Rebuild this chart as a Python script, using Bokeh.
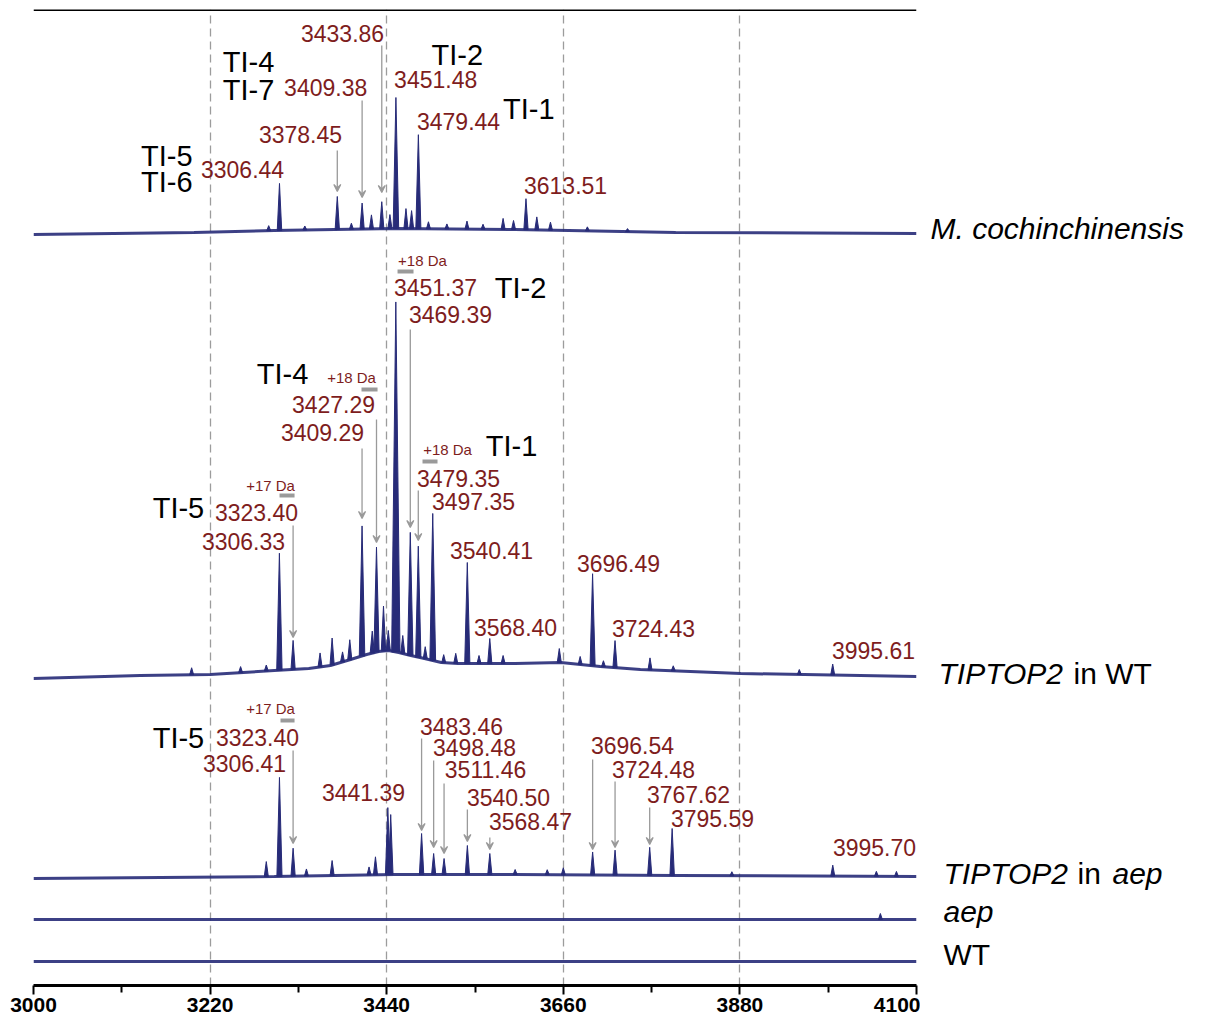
import numpy as np
from bokeh.plotting import figure
from bokeh.layouts import row
from bokeh.models import Range1d, FixedTicker, Span, Arrow, VeeHead, ColumnDataSource
from bokeh.embed import file_html
from bokeh.resources import INLINE
from bokeh.core.properties import value

# ------------------------------------------------------------------ data
x_ticks = [3000, 3220, 3440, 3660, 3880, 4100]
x_minor_ticks = [3110, 3330, 3550, 3770, 3990]

# M. cochinchinensis (intensities in arbitrary units)
mc_base_mz = [3000, 3200, 3300, 3450, 3600, 3800, 4100]
mc_base_int = [0, 2, 4, 6, 5, 2, 1]
mc_peak_mz = [3293, 3306.44, 3338, 3378.45, 3396, 3409.38, 3421, 3433.86, 3444, 3451.48,
              3464, 3471, 3479.44, 3492, 3515, 3540, 3560, 3585, 3598, 3613.51, 3627, 3644, 3690, 3740]
mc_peak_int = [5, 47, 4, 33, 6, 26, 14, 27, 14, 131,
               20, 18, 94, 7, 5, 8, 5, 11, 9, 31, 13, 8, 4, 3]

# TIPTOP2 in WT
wt2_base_mz = [3000, 3133, 3220, 3300, 3343, 3370, 3395, 3415, 3430, 3442, 3455, 3470, 3487,
               3508, 3529, 3600, 3657, 3706, 3756, 3881, 4100]
wt2_base_int = [0, 3, 4, 8, 10, 13, 19, 24, 27, 28, 26, 23, 20, 16, 15, 15, 16, 12, 9, 5, 2]
wt2_peak_mz = [3197, 3258, 3290, 3306.33, 3323.40, 3357, 3372, 3385, 3394, 3409.29, 3422, 3427.29,
               3436, 3442, 3451.37, 3460, 3469.39, 3479.35, 3488, 3497.35, 3511, 3526, 3540.41,
               3555, 3568.40, 3585, 3655, 3681, 3696.49, 3710, 3724.43, 3768, 3797, 3954, 3995.61]
wt2_peak_int = [7, 6, 6, 117, 29, 14, 27, 10, 20, 130, 22, 105,
                45, 20, 350, 18, 123, 111, 12, 147, 8, 10, 101,
                8, 25, 8, 14, 8, 92, 6, 27, 12, 5, 5, 11]

# TIPTOP2 in aep
aep2_base_mz = [3000, 3300, 3450, 3600, 3800, 4100]
aep2_base_int = [0, 2, 4, 4, 3, 2]
aep2_peak_mz = [3290, 3306.41, 3323.40, 3340, 3372, 3418, 3426, 3441.39, 3445, 3483.46, 3498.48,
                3511.46, 3540.50, 3568.47, 3600, 3640, 3660, 3696.54, 3724.48, 3767.62, 3795.59,
                3870, 3995.70, 4050, 4075]
aep2_peak_int = [15, 99, 28, 7, 15, 8, 18, 67, 60, 41, 21,
                 16, 29, 21, 5, 5, 7, 23, 25, 28, 47,
                 4, 11, 5, 5]

# aep
aep_base_mz = [3000, 4100]
aep_base_int = [0, 0]
aep_peak_mz = [4055]
aep_peak_int = [6]

# WT
wt_base_mz = [3000, 4100]
wt_base_int = [0, 0]
wt_peak_mz = []
wt_peak_int = []

# labelled peaks (m/z values shown as text)
mc_labels = [3433.86, 3409.38, 3451.48, 3479.44, 3378.45, 3306.44, 3613.51]
wt2_labels = [3451.37, 3469.39, 3427.29, 3409.29, 3479.35, 3497.35, 3323.40, 3306.33,
              3540.41, 3696.49, 3568.40, 3724.43, 3995.61]
aep2_labels = [3323.40, 3306.41, 3441.39, 3483.46, 3498.48, 3511.46, 3540.50, 3568.47,
               3696.54, 3724.48, 3767.62, 3795.59, 3995.70]
mc_arrows = [3433.86, 3409.38, 3378.45]
wt2_arrows = [3469.39, 3427.29, 3409.29, 3479.35, 3323.40]
aep2_arrows = [3323.40, 3483.46, 3498.48, 3511.46, 3540.50, 3568.47, 3696.54, 3724.48, 3767.62]

# sample names: (italic part, upright part, italic part)
sample_names = [("M. cochinchinensis", "", ""), ("TIPTOP2", "in WT", ""),
                ("TIPTOP2", "in", "aep"), ("aep", "", ""), ("", "WT", "")]

# ------------------------------------------------------------------ layout
mc_label_xy = [(3385, 947), (3364, 893), (3501, 901), (3529.5, 859), (3332.6, 846),
               (3260.4, 811), (3662.8, 795)]
wt2_label_xy = [(3500.8, 693), (3519.5, 666), (3373.7, 576), (3360, 548), (3529.5, 502),
                (3548.2, 479), (3277.8, 468), (3261.6, 439), (3570.6, 430), (3728.8, 417),
                (3600.5, 353), (3772.4, 352), (4046.5, 330)]
aep2_label_xy = [(3279, 243), (3262.9, 217), (3411.1, 188), (3533.2, 254), (3549.4, 233),
                 (3563.1, 211), (3591.8, 183), (3619.2, 159), (3746.2, 235), (3772.4, 211),
                 (3816, 186), (3845.9, 162), (4047.7, 133)]
mc_arrow_y = [(935, 788), (880, 783), (830, 789)]
wt2_arrow_y = [(651, 453), (561, 438), (532, 462), (490, 440), (455, 343)]
aep2_arrow_y = [(230, 137), (242, 150), (220, 133), (197, 127), (171, 139), (143, 131),
                (221, 131), (199, 133), (173, 136)]
ti_labels = [("TI-4", 3268, 919), ("TI-7", 3268, 891), ("TI-2", 3528, 926), ("TI-1", 3617, 872),
             ("TI-5", 3166, 825), ("TI-6", 3166, 799),
             ("TI-2", 3606.7, 693), ("TI-4", 3310.2, 607), ("TI-1", 3595.5, 535), ("TI-5", 3180.6, 473),
             ("TI-5", 3180.6, 243)]
da_labels = [("+18 Da", 3484.6, 720), ("+18 Da", 3396.2, 603), ("+18 Da", 3515.8, 531),
             ("+17 Da", 3295.3, 495), ("+17 Da", 3295.3, 272)]
da_bars = [(3453.5, 3473.4, 709), (3408.6, 3428.6, 591), (3484.6, 3503.3, 519),
           (3306.5, 3325.2, 485), (3307.7, 3325.2, 260)]
# name label positions in the side panel: (x of part1, x of part2, x of part3, y)
name_pos = [(10, 0, 0, 752), (18, 153, 0, 307), (23, 157, 192, 107), (23, 0, 0, 69), (0, 23, 0, 26.5)]

offsets = [746, 302, 102, 61, 19]

NAVY = "#272b78"
RED = "#7e1d1d"
GREY = "#9a9a9a"
FONT = "Liberation Sans"

p = figure(frame_width=883, frame_height=976, min_border_left=33, min_border_right=4,
           min_border_top=9, min_border_bottom=0,
           x_range=Range1d(3000, 4100), y_range=Range1d(-5, 971),
           y_axis_location=None, toolbar_location=None, output_backend="svg")
p.outline_line_color = None
p.ygrid.visible = False

p.xaxis.ticker = FixedTicker(ticks=x_ticks, minor_ticks=x_minor_ticks)
p.xgrid.ticker = FixedTicker(ticks=x_ticks)
p.xgrid.grid_line_color = "#9c9c9c"
p.xgrid.grid_line_dash = "8 5"
p.xgrid.grid_line_width = 1.3
ax = p.xaxis[0]
ax.axis_line_width = 3
ax.axis_line_color = "black"
ax.major_tick_line_width = 2
ax.major_tick_out = 9
ax.major_tick_in = 0
ax.minor_tick_line_width = 2
ax.minor_tick_out = 7
ax.minor_tick_in = 0
ax.major_label_standoff = 3
ax.major_label_text_font = FONT
ax.major_label_text_font_size = "21px"
ax.major_label_text_font_style = "bold"
ax.major_label_text_color = "black"

p.add_layout(Span(location=971, dimension="width", line_color="black", line_width=3))

traces = [
    (mc_base_mz, mc_base_int, mc_peak_mz, mc_peak_int),
    (wt2_base_mz, wt2_base_int, wt2_peak_mz, wt2_peak_int),
    (aep2_base_mz, aep2_base_int, aep2_peak_mz, aep2_peak_int),
    (aep_base_mz, aep_base_int, aep_peak_mz, aep_peak_int),
    (wt_base_mz, wt_base_int, wt_peak_mz, wt_peak_int),
]
for off, (bmz, bint, pmz, pint) in zip(offsets, traces):
    p.line(bmz, [off + v for v in bint], line_color=NAVY, line_width=3, line_alpha=0.9)
    xs, ys = [], []
    for m, h in zip(pmz, pint):
        b = off + np.interp(m, bmz, bint)
        hw = 2.4 + 0.008 * h
        xs.append([m - hw, m, m + hw])
        ys.append([b, b + h, b])
    if xs:
        p.patches(xs, ys, fill_color=NAVY, line_color=NAVY, line_width=1)

# number labels
lx, ly, lt = [], [], []
for vals, pos in ((mc_labels, mc_label_xy), (wt2_labels, wt2_label_xy), (aep2_labels, aep2_label_xy)):
    for v, (x, y) in zip(vals, pos):
        lx.append(x); ly.append(y); lt.append(f"{v:.2f}")
p.text(x=lx, y=ly, text=lt, text_font=value(FONT), text_font_size="23px", text_color=RED,
       text_align="center", text_baseline="middle")

p.text(x=[t[1] for t in ti_labels], y=[t[2] for t in ti_labels], text=[t[0] for t in ti_labels],
       text_font=value(FONT), text_font_size="29px", text_color="black",
       text_align="center", text_baseline="middle")
p.text(x=[t[1] for t in da_labels], y=[t[2] for t in da_labels], text=[t[0] for t in da_labels],
       text_font=value(FONT), text_font_size="15px", text_color=RED,
       text_align="center", text_baseline="middle")
p.segment(x0=[b[0] for b in da_bars], x1=[b[1] for b in da_bars],
          y0=[b[2] for b in da_bars], y1=[b[2] for b in da_bars],
          line_color=GREY, line_width=4)

# arrows
axs, ays, aye = [], [], []
for vals, ypos in ((mc_arrows, mc_arrow_y), (wt2_arrows, wt2_arrow_y), (aep2_arrows, aep2_arrow_y)):
    for v, (y0, y1) in zip(vals, ypos):
        axs.append(v); ays.append(y0); aye.append(y1)
asrc = ColumnDataSource(dict(x_start=axs, y_start=ays, x_end=axs, y_end=aye))
p.add_layout(Arrow(source=asrc, x_start="x_start", y_start="y_start", x_end="x_end", y_end="y_end",
                   line_color=GREY, line_width=1.3,
                   end=VeeHead(size=7, line_color=GREY, line_width=1.2, fill_color=GREY)))

# side panel with sample names (shares the y scale)
q = figure(frame_width=280, frame_height=976, min_border_left=0, min_border_right=0,
           min_border_top=9, min_border_bottom=0,
           x_range=Range1d(0, 280), y_range=p.y_range,
           x_axis_location=None, y_axis_location=None, toolbar_location=None, output_backend="svg")
q.outline_line_color = None
q.xgrid.visible = False
q.ygrid.visible = False

it_x, it_y, it_t, up_x, up_y, up_t = [], [], [], [], [], []
for (a, b, c), (xa, xb, xc, y) in zip(sample_names, name_pos):
    if a:
        it_x.append(xa); it_y.append(y); it_t.append(a)
    if b:
        up_x.append(xb); up_y.append(y); up_t.append(b)
    if c:
        it_x.append(xc); it_y.append(y); it_t.append(c)
q.text(x=it_x, y=it_y, text=it_t, text_font=value(FONT), text_font_size="30px",
       text_font_style="italic", text_color="black", text_align="left", text_baseline="middle")
q.text(x=up_x, y=up_y, text=up_t, text_font=value(FONT), text_font_size="30px",
       text_color="black", text_align="left", text_baseline="middle")

open("out.html", "w").write(file_html(row(p, q), INLINE))
